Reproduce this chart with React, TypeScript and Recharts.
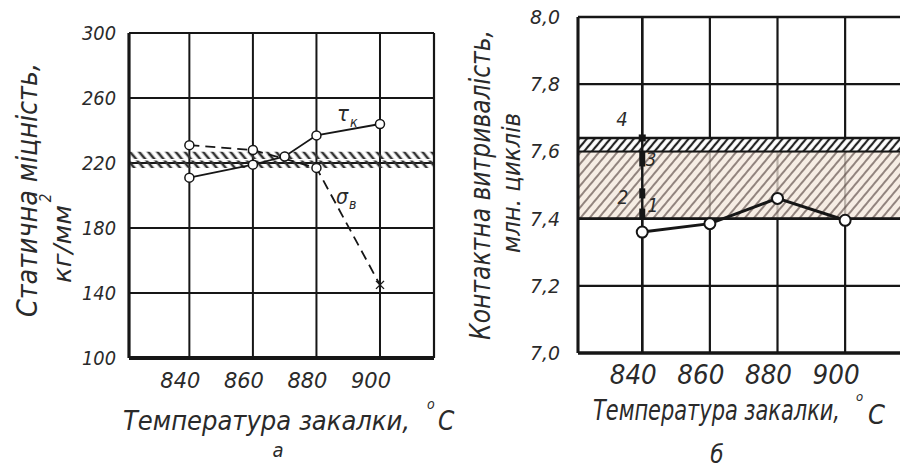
import React from "react";
import {
  LineChart,
  Line,
  XAxis,
  YAxis,
  CartesianGrid,
  ReferenceArea,
  ReferenceLine,
  ReferenceDot,
} from "recharts";

// ---- data ----
const TEMP_TICKS = [840, 860, 880, 900];
const STRENGTH_TICKS = [100, 140, 180, 220, 260, 300];
const ENDURANCE_TICKS = [7.0, 7.2, 7.4, 7.6, 7.8, 8.0];
const ENDURANCE_TICK_LABELS = ["7,0", "7,2", "7,4", "7,6", "7,8", "8,0"];

const TAU_TEMPS = [840, 860, 870, 880, 900];
const TAU_K = [211, 219, 224, 237, 244];
const SIGMA_TEMPS = [840, 860, 880, 900];
const SIGMA_B = [231, 228, 217, 145];

// hatched strength band (two strips)
const STRENGTH_BAND_LOWER = [217, 221.5];
const STRENGTH_BAND_UPPER = [222.5, 227];

const ENDURANCE_TEMPS = [840, 860, 880, 900];
const ENDURANCE = [7.36, 7.385, 7.46, 7.395];
// hatched endurance band: lower strip, upper strip
const ENDURANCE_BAND = [7.4, 7.6, 7.64];

// grade ranges marked on the 840 °C line
const GRADE_LO = [7.4, 7.46, 7.555];
const GRADE_HI = [7.43, 7.49, 7.6];
const GRADE_4 = 7.64;

const tauData = TAU_TEMPS.map((t, i) => ({ t, v: TAU_K[i] }));
const sigmaData = SIGMA_TEMPS.map((t, i) => ({ t, v: SIGMA_B[i] }));
const enduranceData = ENDURANCE_TEMPS.map((t, i) => ({ t, v: ENDURANCE[i] }));

const FONT = "'DejaVu Sans Condensed', 'Liberation Sans Narrow', 'DejaVu Sans', sans-serif";
const INK = "#161616";
const TEXT = "#2a2a2a";

const tx = {
  fontFamily: FONT,
  fontStyle: "italic" as const,
  fill: TEXT,
};

// ---- tick renderers ----
const YTickA = (p: any) => (
  <text x={116} y={p.y + 7} textAnchor="end" fontSize={19} textLength={34} lengthAdjust="spacingAndGlyphs" {...tx}>
    {p.payload.value}
  </text>
);

const XTickA = (p: any) => (
  <text x={p.x - 9} y={388} textAnchor="middle" fontSize={22} textLength={40} lengthAdjust="spacingAndGlyphs" {...tx}>
    {p.payload.value}
  </text>
);

const YTickB = (p: any) => {
  const idx = ENDURANCE_TICKS.findIndex((v) => Math.abs(v - p.payload.value) < 1e-6);
  return (
    <text x={110} y={p.y + 7} textAnchor="end" fontSize={20} textLength={30} lengthAdjust="spacingAndGlyphs" {...tx}>
      {ENDURANCE_TICK_LABELS[idx]}
    </text>
  );
};

const XTickB = (p: any) => (
  <text x={p.x - 9} y={384} textAnchor="middle" fontSize={26} textLength={47} lengthAdjust="spacingAndGlyphs" {...tx}>
    {p.payload.value}
  </text>
);

const openDot = (r: number, sw: number) => (p: any) => (
  <circle key={`d${p.index}`} cx={p.cx} cy={p.cy} r={r} fill="#fff" stroke={INK} strokeWidth={sw} />
);

const sigmaDot = (p: any) => {
  if (p.index === SIGMA_TEMPS.length - 1) {
    const s = 4;
    return (
      <g key={`s${p.index}`} stroke={INK} strokeWidth={1.4}>
        <line x1={p.cx - s} y1={p.cy - s} x2={p.cx + s} y2={p.cy + s} />
        <line x1={p.cx - s} y1={p.cy + s} x2={p.cx + s} y2={p.cy - s} />
      </g>
    );
  }
  return <circle key={`s${p.index}`} cx={p.cx} cy={p.cy} r={4.5} fill="#fff" stroke={INK} strokeWidth={1.5} />;
};

const GradeSquare = (p: any) => <rect x={p.cx - 3.5} y={p.cy - 3.5} width={7} height={7} fill={INK} />;

export default function App() {
  return (
    <div
      style={{
        position: "fixed",
        left: 0,
        top: 0,
        width: 900,
        height: 471,
        overflow: "hidden",
        background: "#fff",
      }}
    >
      {/* panel а: static strength */}
      <div style={{ position: "absolute", left: 0, top: 0 }}>
        <LineChart width={450} height={471} margin={{ top: 33, right: 16, bottom: 0, left: 0 }}>
          <defs>
            <pattern id="hatchA" patternUnits="userSpaceOnUse" width="7" height="7" patternTransform="rotate(-40)">
              <line x1="2" y1="0" x2="2" y2="7" stroke="#333" strokeWidth="2.6" />
            </pattern>
          </defs>
          <XAxis
            type="number"
            dataKey="t"
            domain={[821, 917]}
            ticks={TEMP_TICKS}
            allowDataOverflow
            axisLine={false}
            tickLine={false}
            tick={XTickA}
            height={113}
            interval={0}
          />
          <YAxis
            type="number"
            domain={[100, 300]}
            ticks={STRENGTH_TICKS}
            allowDataOverflow
            axisLine={false}
            tickLine={false}
            tick={YTickA}
            width={129}
            interval={0}
          />
          <CartesianGrid stroke={INK} strokeWidth={2} />
          <ReferenceArea y1={STRENGTH_BAND_LOWER[0]} y2={STRENGTH_BAND_LOWER[1]} fill="url(#hatchA)" fillOpacity={1} stroke="none" />
          <ReferenceArea y1={STRENGTH_BAND_UPPER[0]} y2={STRENGTH_BAND_UPPER[1]} fill="url(#hatchA)" fillOpacity={1} stroke="none" />
          <ReferenceLine y={300} stroke={INK} strokeWidth={2} />
          <ReferenceLine x={917} stroke={INK} strokeWidth={2.2} />
          <ReferenceLine y={100} stroke={INK} strokeWidth={4} />
          <ReferenceLine x={821} stroke={INK} strokeWidth={3.2} />
          <Line
            data={sigmaData}
            dataKey="v"
            stroke={INK}
            strokeWidth={1.8}
            strokeDasharray="10 6"
            dot={sigmaDot}
            isAnimationActive={false}
          />
          <Line
            data={tauData}
            dataKey="v"
            stroke={INK}
            strokeWidth={1.8}
            dot={openDot(4.5, 1.5)}
            isAnimationActive={false}
          />
        </LineChart>
      </div>

      {/* panel б: contact endurance */}
      <div style={{ position: "absolute", left: 450, top: 0 }}>
        <LineChart width={470} height={471} margin={{ top: 17, right: 14, bottom: 0, left: 0 }}>
          <defs>
            <pattern id="hatchB1" patternUnits="userSpaceOnUse" width="6" height="6" patternTransform="rotate(40)">
              <rect width="6" height="6" fill="#fff" />
              <line x1="2" y1="0" x2="2" y2="6" stroke="#222" strokeWidth="2.2" />
            </pattern>
            <pattern id="hatchB2" patternUnits="userSpaceOnUse" width="7" height="7" patternTransform="rotate(40)">
              <rect width="7" height="7" fill="#f2e6da" fillOpacity="0.75" />
              <line x1="2" y1="0" x2="2" y2="7" stroke="#5b4a46" strokeWidth="1.3" />
            </pattern>
          </defs>
          <XAxis
            type="number"
            dataKey="t"
            domain={[821, 918]}
            ticks={TEMP_TICKS}
            allowDataOverflow
            axisLine={false}
            tickLine={false}
            tick={XTickB}
            height={118}
            interval={0}
          />
          <YAxis
            type="number"
            domain={[7.0, 8.0]}
            ticks={ENDURANCE_TICKS}
            allowDataOverflow
            axisLine={false}
            tickLine={false}
            tick={YTickB}
            width={128}
            interval={0}
          />
          <CartesianGrid stroke={INK} strokeWidth={2.2} />
          <ReferenceArea y1={ENDURANCE_BAND[0]} y2={ENDURANCE_BAND[1]} fill="url(#hatchB2)" fillOpacity={1} stroke="none" />
          <ReferenceArea y1={ENDURANCE_BAND[1]} y2={ENDURANCE_BAND[2]} fill="url(#hatchB1)" fillOpacity={1} stroke="none" />
          <ReferenceLine y={ENDURANCE_BAND[2]} stroke={INK} strokeWidth={2.6} />
          <ReferenceLine y={ENDURANCE_BAND[1]} stroke={INK} strokeWidth={2} />
          <ReferenceLine y={ENDURANCE_BAND[0]} stroke={INK} strokeWidth={2.8} />
          <ReferenceLine y={8.0} stroke={INK} strokeWidth={2.4} />
          <ReferenceLine y={7.0} stroke={INK} strokeWidth={3.6} />
          <ReferenceLine x={821} stroke={INK} strokeWidth={3} />
          <ReferenceLine x={840} stroke={INK} strokeWidth={2.4} />
          {GRADE_LO.map((lo, i) => (
            <ReferenceLine
              key={`g${i}`}
              segment={[
                { x: 840, y: lo },
                { x: 840, y: GRADE_HI[i] },
              ]}
              stroke={INK}
              strokeWidth={6}
            />
          ))}
          <ReferenceDot x={840} y={GRADE_4} r={4} shape={GradeSquare} />
          <Line
            data={enduranceData}
            dataKey="v"
            stroke={INK}
            strokeWidth={3}
            dot={openDot(5.5, 2)}
            isAnimationActive={false}
          />
        </LineChart>
      </div>

      {/* titles and annotations */}
      <svg width={900} height={471} style={{ position: "absolute", left: 0, top: 0, pointerEvents: "none" }}>
        <g {...tx}>
          {/* panel а */}
          <text x={37} y={190} transform="rotate(-90 37 190)" textAnchor="middle" fontSize={29} textLength={254} lengthAdjust="spacingAndGlyphs">
            Статична міцність,
          </text>
          <text x={71} y={244} transform="rotate(-90 71 244)" textAnchor="middle" fontSize={25} textLength={78} lengthAdjust="spacingAndGlyphs">
            кг/мм
          </text>
          <text x={51} y={198} transform="rotate(-90 51 198)" textAnchor="middle" fontSize={15}>
            2
          </text>
          <text x={123} y={430} fontSize={26} textLength={287} lengthAdjust="spacingAndGlyphs">
            Температура закалки,
          </text>
          <text x={427} y={430}>
            <tspan dy={-21} fontSize={14}>o</tspan>
            <tspan x={438} dy={21} fontSize={26}>C</tspan>
          </text>
          <text x={278} y={457} textAnchor="middle" fontSize={20}>а</text>
          <text x={337} y={121} fontSize={22}>τ</text>
          <text x={350} y={127} fontSize={14}>к</text>
          <text x={336} y={204} fontSize={21}>σ</text>
          <text x={349} y={209} fontSize={14}>в</text>

          {/* panel б */}
          <text x={490} y={185} transform="rotate(-90 490 185)" textAnchor="middle" fontSize={29} textLength={310} lengthAdjust="spacingAndGlyphs">
            Контактна витривалість,
          </text>
          <text x={520} y={183} transform="rotate(-90 520 183)" textAnchor="middle" fontSize={25} textLength={140} lengthAdjust="spacingAndGlyphs">
            млн. циклів
          </text>
          <text x={593} y={420} fontSize={28} textLength={247} lengthAdjust="spacingAndGlyphs">
            Температура закалки,
          </text>
          <text x={856} y={424}>
            <tspan dy={-23} fontSize={13}>o</tspan>
            <tspan x={868} dy={23} fontSize={27}>C</tspan>
          </text>
          <text x={717} y={463} textAnchor="middle" fontSize={24}>б</text>
          <text x={622} y={126} textAnchor="middle" fontSize={20}>4</text>
          <text x={651} y={166} textAnchor="middle" fontSize={19}>3</text>
          <text x={623} y={204} textAnchor="middle" fontSize={19}>2</text>
          <text x={653} y={212} textAnchor="middle" fontSize={19}>1</text>
        </g>
      </svg>
    </div>
  );
}
